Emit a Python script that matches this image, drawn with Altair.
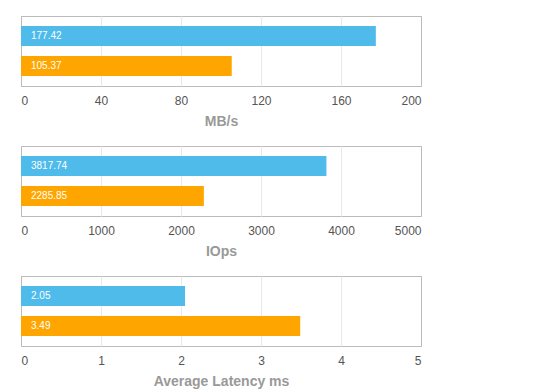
import altair as alt
import pandas as pd

metrics = ["MB/s", "IOps", "Average Latency ms"]
axis_max = [200, 5000, 5]
axis_step = [40, 1000, 1]
series = ["blue", "orange"]
blue_values = [177.42, 3817.74, 2.05]
orange_values = [105.37, 2285.85, 3.49]
colors = ["#4FBBEB", "#FFA500"]

grid_color = {
    "condition": {"test": "datum.index == 0 || datum.index == 1", "value": "#bbbbbb"},
    "value": "#e8e8e8",
}

panels = []
for i, m in enumerate(metrics):
    df = pd.DataFrame({
        "series": series,
        "value": [blue_values[i], orange_values[i]],
    })
    ticks = list(range(0, axis_max[i] + 1, axis_step[i]))
    base = alt.Chart(df).encode(
        y=alt.Y("series:N", sort=series, axis=None,
                scale=alt.Scale(paddingInner=1/3, paddingOuter=1/3)),
    )
    bars = base.mark_bar().encode(
        x=alt.X("value:Q", title=m,
                scale=alt.Scale(domain=[0, axis_max[i]], nice=False),
                axis=alt.Axis(values=ticks, format="d", gridColor=grid_color)),
        color=alt.Color("series:N", scale=alt.Scale(domain=series, range=colors), legend=None),
    )
    text = base.mark_text(align="left", baseline="middle", dx=10, color="white",
                          fontSize=10, font="Liberation Sans").encode(
        x=alt.datum(0),
        text=alt.Text("value:Q", format=".2f"),
    )
    panels.append(alt.layer(bars, text).properties(width=400, height=70))

chart = alt.vconcat(*panels, spacing=16).properties(
    padding={"left": 12, "top": 7, "right": 5, "bottom": 5}
).configure_view(
    stroke="#bbbbbb", strokeWidth=1
).configure_axis(
    grid=True, domain=False, ticks=False,
    labelPadding=9, labelColor="#555555", labelFontSize=12, labelFont="Liberation Sans",
    titleColor="#999999", titleFontSize=14, titleFontWeight="bold", titleFont="Liberation Sans",
    titlePadding=8,
)

chart.save("out.html", embed_options={"renderer": "svg", "actions": False})
